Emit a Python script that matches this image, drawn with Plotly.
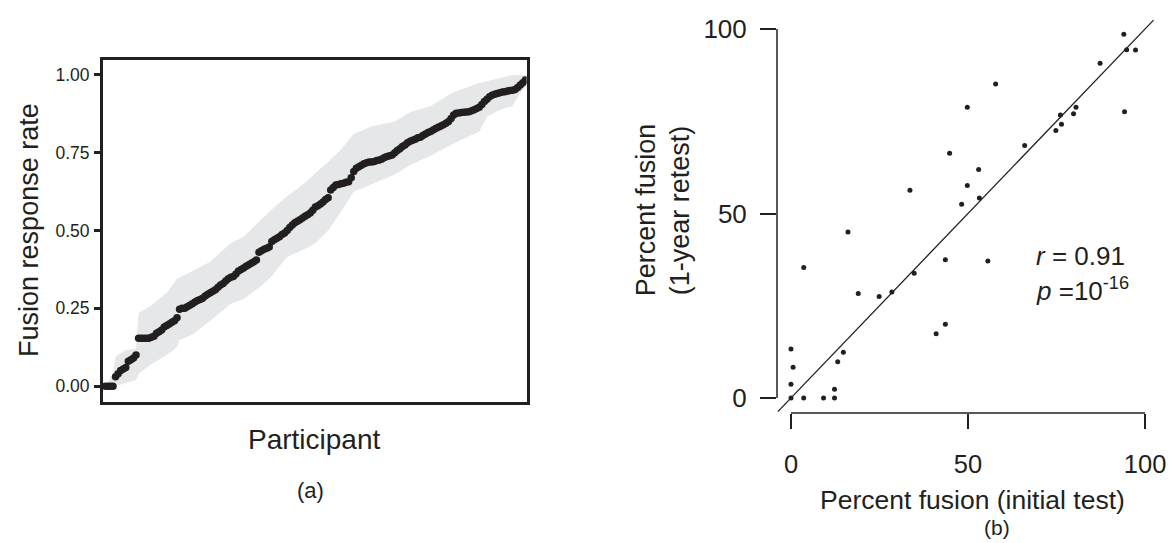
import plotly.graph_objects as go

W, H = 1171, 543
FONT = "Liberation Sans, Arial, Helvetica, sans-serif"
INK = "#231f20"

# ---------- Panel (a): sorted fusion response rate per participant ----------
fusion_rate = [
    0, 0, 0, 0,
    0.03, 0.04, 0.05, 0.055, 0.06, 0.08, 0.085, 0.09, 0.10,
    0.154, 0.154, 0.154, 0.154, 0.154, 0.157,
    0.16, 0.17, 0.175, 0.18, 0.19, 0.195, 0.20, 0.205, 0.21, 0.22,
    0.247, 0.25, 0.25, 0.255, 0.26,
    0.265, 0.27, 0.275, 0.278, 0.282, 0.29, 0.295, 0.30, 0.305, 0.31,
    0.318, 0.325, 0.33, 0.338, 0.345, 0.35, 0.352, 0.36,
    0.37, 0.375, 0.38, 0.385, 0.39, 0.395, 0.40, 0.405,
    0.43, 0.435, 0.44, 0.443, 0.447,
    0.465, 0.47, 0.475, 0.48, 0.487, 0.492, 0.50, 0.51, 0.518, 0.525, 0.53, 0.535,
    0.54, 0.546, 0.551, 0.556, 0.565, 0.576, 0.58, 0.585, 0.592, 0.60, 0.605,
    0.63, 0.638, 0.646, 0.648, 0.65, 0.652, 0.655, 0.657, 0.67,
    0.69, 0.70, 0.705, 0.71, 0.715, 0.718, 0.72, 0.72, 0.722, 0.725, 0.727, 0.73, 0.735,
    0.738, 0.74, 0.743, 0.75, 0.757, 0.763, 0.77, 0.775, 0.782, 0.787,
    0.79, 0.793, 0.798, 0.80, 0.805, 0.81, 0.815, 0.818, 0.823, 0.828,
    0.832, 0.836, 0.84, 0.845, 0.85,
    0.86, 0.871, 0.877, 0.878, 0.879, 0.88, 0.881, 0.882, 0.885, 0.888, 0.892, 0.896,
    0.905, 0.915, 0.922, 0.93, 0.935, 0.938, 0.94, 0.943, 0.945, 0.946,
    0.948, 0.95, 0.951, 0.953, 0.96, 0.968, 0.975, 0.984,
]
participants = list(range(1, len(fusion_rate) + 1))

# confidence band (read at selected participant ranks)
band_participant = [1, 4, 5, 9, 13, 14, 19, 25, 29, 30, 35, 42, 50, 55, 60, 65, 72,
                    80, 83, 88, 93, 98, 105, 114, 120, 128, 137, 147, 150, 155, 160, 163, 165]
band_upper = [0, 0.04, 0.095, 0.116, 0.12, 0.235, 0.26, 0.30, 0.345, 0.35, 0.37, 0.40,
              0.46, 0.48, 0.52, 0.56, 0.61, 0.66, 0.685, 0.72, 0.76, 0.81, 0.835, 0.85,
              0.88, 0.90, 0.945, 0.974, 0.98, 0.99, 1.0, 1.0, 1.0]
band_lower = [0, 0, 0, 0.01, 0.02, 0.04, 0.07, 0.10, 0.125, 0.148, 0.165, 0.21,
              0.265, 0.28, 0.31, 0.345, 0.415, 0.445, 0.46, 0.50, 0.56, 0.625, 0.65, 0.68,
              0.71, 0.74, 0.78, 0.818, 0.866, 0.887, 0.90, 0.942, 0.96]

a_yticks = [0, 0.25, 0.5, 0.75, 1.0]
a_yticklabels = ["0.00", "0.25", "0.50", "0.75", "1.00"]

# ---------- Panel (b): test-retest scatter ----------
initial_test = [0, 3.6, 9.2, 12.3, 12.3, 0, 0.6, 0, 13.2, 14.8, 41.0, 43.6, 19.0, 24.9,
                28.5, 34.8, 3.6, 43.6, 55.6, 16.1, 48.2, 53.2, 33.6, 49.8, 53.0, 44.8,
                66.0, 74.8, 76.4, 76.1, 79.8, 94.2, 49.8, 80.5, 57.8, 87.3, 94.8, 97.3, 94.0]
retest = [0, 0, 0, 0, 2.4, 3.7, 8.3, 13.3, 9.8, 12.4, 17.4, 20.0, 28.3, 27.5,
          28.7, 33.8, 35.4, 37.5, 37.1, 45.0, 52.5, 54.2, 56.3, 57.6, 61.9, 66.3,
          68.4, 72.5, 74.2, 76.7, 77.0, 77.6, 78.8, 78.8, 85.1, 90.7, 94.4, 94.3, 98.6]
fit_slope = 1.0
fit_intercept = 0.0
fit_x_extent = [-3.7, 102.4]
b_ticks = [0, 50, 100]
b_ticklabels = ["0", "50", "100"]

fig = go.Figure()

# band
fig.add_trace(go.Scatter(x=band_participant, y=band_lower, mode="lines",
                         line=dict(width=0, color="#e6e7e8"), hoverinfo="skip",
                         showlegend=False, xaxis="x", yaxis="y"))
fig.add_trace(go.Scatter(x=band_participant, y=band_upper, mode="lines",
                         line=dict(width=0, color="#e6e7e8"), fill="tonexty",
                         fillcolor="#e6e7e8", hoverinfo="skip",
                         showlegend=False, xaxis="x", yaxis="y"))
fig.add_trace(go.Scatter(x=participants, y=fusion_rate, mode="markers",
                         marker=dict(size=7.5, color=INK, line=dict(width=0)),
                         showlegend=False, xaxis="x", yaxis="y"))

# panel b
fit_y = [fit_intercept + fit_slope * v for v in fit_x_extent]
fig.add_trace(go.Scatter(x=fit_x_extent, y=fit_y, mode="lines",
                         line=dict(color=INK, width=1.3),
                         showlegend=False, xaxis="x2", yaxis="y2"))
fig.add_trace(go.Scatter(x=initial_test, y=retest, mode="markers",
                         marker=dict(size=5, color=INK, line=dict(width=0)),
                         showlegend=False, xaxis="x2", yaxis="y2"))


def px(x):
    return x / W


def py(y):
    return 1 - y / H


fig.update_layout(
    width=W, height=H, autosize=False,
    margin=dict(l=0, r=0, t=0, b=0),
    paper_bgcolor="white", plot_bgcolor="white",
    font=dict(family=FONT, color=INK),
    showlegend=False,
    xaxis=dict(domain=[px(103), px(528)], range=[0, 165.5], showgrid=False,
               zeroline=False, showticklabels=False, ticks="",
               showline=True, mirror=True, linecolor=INK, linewidth=2.5),
    yaxis=dict(domain=[py(402), py(60)], range=[-0.051, 1.048], showgrid=False,
               zeroline=False, tickvals=a_yticks, ticktext=a_yticklabels,
               ticks="outside", ticklen=6, tickwidth=2.5, tickcolor=INK,
               ticklabelstandoff=1,
               tickfont=dict(size=17.5, family=FONT, color=INK),
               showline=True, mirror=True, linecolor=INK, linewidth=2.5),
    xaxis2=dict(domain=[px(779), px(1166)], range=[-3.944, 105.07], anchor="y2",
                showgrid=False, zeroline=False, showline=False,
                tickvals=b_ticks, ticktext=b_ticklabels, ticks="outside",
                ticklen=15, tickwidth=1.5, tickcolor=INK, ticklabelstandoff=13,
                tickfont=dict(size=25.5, family=FONT, color=INK)),
    yaxis2=dict(domain=[py(413), py(10)], range=[-4.065, 105.15], anchor="x2",
                showgrid=False, zeroline=False, showline=False,
                tickvals=b_ticks, ticktext=b_ticklabels, ticks="outside",
                ticklen=16, tickwidth=1.5, tickcolor=INK, ticklabelstandoff=8,
                tickfont=dict(size=26, family=FONT, color=INK)),
)

# detached axis lines for panel b (span the tick range)
fig.add_shape(type="line", xref="x2 domain", yref="y2", x0=0, x1=0,
              y0=b_ticks[0], y1=b_ticks[-1], line=dict(color=INK, width=1.5))
fig.add_shape(type="line", xref="x2", yref="y2 domain", x0=b_ticks[0], x1=b_ticks[-1],
              y0=0, y1=0, line=dict(color=INK, width=1.5))

ann = []


def text(x, y, t, size, angle=0, xanchor="center"):
    ann.append(dict(x=px(x), y=py(y), xref="paper", yref="paper", text=t,
                    showarrow=False, textangle=angle, xanchor=xanchor,
                    yanchor="middle", font=dict(size=size, family=FONT, color=INK)))


text(29, 230, "Fusion response rate", 27, angle=-90)
text(315, 439, "Participant", 28)
text(311, 490, "(a)", 22)
text(648, 210, "Percent fusion", 27, angle=-90)
text(682, 210, "(1-year retest)", 27, angle=-90)
text(975, 500, "Percent fusion (initial test)", 26.5)
text(1000, 527, "(b)", 21)
text(1037, 256, "<i>r</i> = 0.91", 26, xanchor="left")
text(1037, 289, "<i>p</i> =10<sup>-16</sup>", 26, xanchor="left")
fig.update_layout(annotations=ann)

fig.write_html("out.html", config={"displayModeBar": False},
               post_script="document.body.style.margin='0';document.body.style.padding='0';")
